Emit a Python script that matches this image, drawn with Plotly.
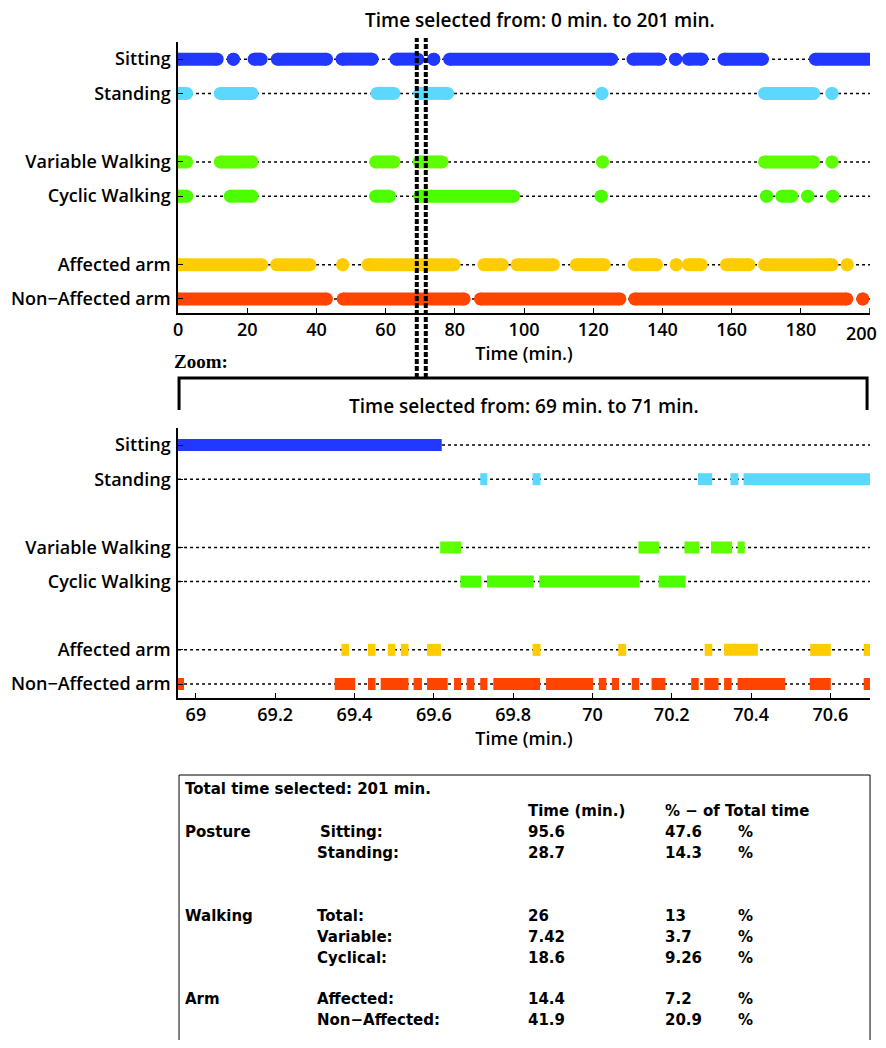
import plotly.graph_objects as go

# the page has an 8px body margin; the figure is sized so that it fits the 886x1048 window
W, H = 870, 1032
OFF = 8
FONT = "Open Sans"

# ---------------- data ----------------
rows = ["Sitting", "Standing", "Variable Walking", "Cyclic Walking", "Affected arm", "Non\u2212Affected arm"]
row_pos = [8, 7, 5, 4, 2, 1]
colors = ["#2038FF", "#5CD8FF", "#5EFF00", "#4CFF00", "#FFCC00", "#FF4400"]

# overview (0 - 201 min): activity periods [start, end] in minutes
overview = {
    "Sitting": [[0, 11.3], [16, 16], [22.0, 24.0], [28.7, 42.9], [47.4, 56.1], [63.0, 69.3], [73.9, 73.9],
                [78.5, 125.3], [131.5, 139.2], [143.8, 143.8], [147.5, 151.4], [157.8, 168.9], [184.2, 201]],
    "Standing": [[0, 2.5], [12.2, 21.4], [57.5, 62.4], [69.9, 77.9], [122.5, 122.5], [169.5, 183.7], [189, 189]],
    "Variable Walking": [[0, 2.5], [12.2, 21.4], [57.1, 62.4], [69.7, 76.3], [122.7, 122.7], [169.5, 183.7], [189, 189]],
    "Cyclic Walking": [[0, 2.5], [15.1, 21.4], [57.1, 61.1], [69.9, 97.0], [122.3, 122.3], [170.1, 170.1],
                       [174.5, 177.4], [182, 182], [189.2, 189.2]],
    "Affected arm": [[0, 24.2], [28.5, 38.1], [47.6, 47.6], [54.9, 79.8], [88.4, 93.7], [98.0, 108.5],
                     [115.1, 123.2], [131.8, 138.3], [144, 144], [147.5, 151.2], [158.5, 165.0],
                     [169.5, 189.0], [193.4, 193.4]],
    "Non\u2212Affected arm": [[0, 42.9], [47.7, 82.7], [87.4, 127.7], [132.0, 193.3], [197.9, 197.9]],
}

# zoom (69 - 71 min)
zoom = {
    "Sitting": [[68.955, 69.62]],
    "Standing": [[69.717, 69.735], [69.849, 69.869], [70.266, 70.302], [70.348, 70.368], [70.381, 70.71]],
    "Variable Walking": [[69.616, 69.669], [70.116, 70.168], [70.232, 70.269], [70.299, 70.352], [70.366, 70.384]],
    "Cyclic Walking": [[69.667, 69.719], [69.734, 69.852], [69.866, 70.119], [70.167, 70.235]],
    "Affected arm": [[69.367, 69.386], [69.434, 69.453], [69.484, 69.503], [69.517, 69.536], [69.583, 69.618],
                     [69.849, 69.869], [70.065, 70.085], [70.283, 70.302], [70.332, 70.417], [70.549, 70.601],
                     [70.684, 70.71]],
    "Non\u2212Affected arm": [[68.955, 68.97], [69.35, 69.402], [69.434, 69.453], [69.466, 69.536], [69.549, 69.57],
                             [69.583, 69.635], [69.651, 69.669], [69.683, 69.702], [69.717, 69.735], [69.75, 69.868],
                             [69.883, 70.002], [70.016, 70.035], [70.049, 70.067], [70.099, 70.118], [70.149, 70.184],
                             [70.249, 70.268], [70.282, 70.318], [70.332, 70.351], [70.366, 70.486], [70.548, 70.601],
                             [70.684, 70.71]],
}

overview_range = [0, 200]
overview_ticks = [0, 20, 40, 60, 80, 100, 120, 140, 160, 180, 200]
zoom_range = [68.955, 70.7]
zoom_ticks = [69, 69.2, 69.4, 69.6, 69.8, 70, 70.2, 70.4, 70.6]
zoom_ticklabels = ["69", "69.2", "69.4", "69.6", "69.8", "70", "70.2", "70.4", "70.6"]
selection = [69.0, 71.6]
selection_label = [69, 71]

total_time = 201
table_header = ["Time (min.)", "% \u2212 of Total time"]
table_rows = [
    ("Posture", "Sitting:", "95.6", "47.6"),
    ("", "Standing:", "28.7", "14.3"),
    ("Walking", "Total:", "26", "13"),
    ("", "Variable:", "7.42", "3.7"),
    ("", "Cyclical:", "18.6", "9.26"),
    ("Arm", "Affected:", "14.4", "7.2"),
    ("", "Non\u2212Affected:", "41.9", "20.9"),
]
table_row_y = [832, 853, 916, 937, 958, 999, 1020]
table_label_x = [316, 313, 313, 313, 313, 313, 313]

# ---------------- helpers (window pixel -> paper) ----------------
def PX(x):
    return (x - OFF) / W

def PY(y):
    return 1 - (y - OFF) / H

fig = go.Figure()

def seg_xy(segs, ypos):
    xs, ys = [], []
    for s, e in segs:
        xs += [s, e, None]
        ys += [ypos, ypos, None]
    return xs, ys

for axis_id, data, rng, lw, with_markers in [("", overview, overview_range, 13, True),
                                             ("2", zoom, zoom_range, 12, False)]:
    for name, yp in zip(rows, row_pos):
        fig.add_trace(go.Scatter(x=[rng[0], rng[1]], y=[yp, yp], mode="lines",
                                 line=dict(color="black", width=1.5, dash="3px,3px"),
                                 xaxis="x" + axis_id, yaxis="y" + axis_id, showlegend=False,
                                 hoverinfo="skip"))
    for name, yp, c in zip(rows, row_pos, colors):
        xs, ys = seg_xy(data[name], yp)
        fig.add_trace(go.Scatter(x=xs, y=ys, mode="lines+markers" if with_markers else "lines",
                                 line=dict(color=c, width=lw),
                                 marker=dict(color=c, size=lw, line=dict(width=0)),
                                 xaxis="x" + axis_id, yaxis="y" + axis_id, showlegend=False,
                                 name=name))

axis_font = dict(family=FONT, size=18, color="black", weight=600)
tick_font = dict(family=FONT, size=18, color="black", weight=600)
table_font = dict(family="DejaVu Sans", size=15, color="black", weight=700)
common_y = dict(tickvals=row_pos, ticktext=rows, range=[0.59, 8.5], showline=True, linecolor="black",
                linewidth=1.5, ticks="inside", ticklen=5, tickcolor="black", tickfont=tick_font,
                showgrid=False, zeroline=False, fixedrange=True, ticklabelstandoff=2)
common_x = dict(showline=True, linecolor="black", linewidth=1.5, ticks="inside", ticklen=5,
                tickcolor="black", tickfont=tick_font, showgrid=False, zeroline=False,
                title=dict(text="Time (min.)", font=axis_font, standoff=0))

fig.update_layout(
    width=W, height=H, margin=dict(l=0, r=0, t=0, b=0),
    paper_bgcolor="white", plot_bgcolor="white",
    xaxis=dict(common_x, domain=[PX(174), PX(870)], range=overview_range, tickvals=overview_ticks[:-1],
               anchor="y"),
    yaxis=dict(common_y, domain=[PY(313), PY(42)], anchor="x"),
    xaxis2=dict(common_x, domain=[PX(174), PX(870)], range=zoom_range, tickvals=zoom_ticks,
                ticktext=zoom_ticklabels, anchor="y2"),
    yaxis2=dict(common_y, domain=[PY(698), PY(428)], anchor="x2"),
)

shapes = []
for sx in selection:
    shapes.append(dict(type="line", xref="x", yref="paper", x0=sx, x1=sx, y0=PY(378), y1=PY(38),
                       line=dict(color="black", width=4, dash="5px,2px")))
# tick mark for the last overview tick (its label is placed inside the page below)
shapes.append(dict(type="line", xref="x", yref="paper", x0=overview_ticks[-1], x1=overview_ticks[-1],
                   y0=PY(313), y1=PY(308), line=dict(color="black", width=1.5)))
shapes.append(dict(type="path", xref="paper", yref="paper",
                   path=f"M {PX(175)},{PY(410)} L {PX(175)},{PY(378)} L {PX(867)},{PY(378)} L {PX(867)},{PY(410)}",
                   line=dict(color="black", width=3)))
shapes.append(dict(type="rect", xref="paper", yref="paper", x0=PX(175), x1=PX(870), y0=PY(1060), y1=PY(775),
                   line=dict(color="black", width=1)))
fig.update_layout(shapes=shapes)

ann = []
def text(x, y, s, anchor="left", font=None):
    ann.append(dict(x=PX(x), y=PY(y), xref="paper", yref="paper", text=s, showarrow=False,
                    xanchor=anchor, yanchor="middle", font=font or table_font,
                    borderpad=0))

# last overview tick label, kept inside the page
ann.append(dict(x=overview_ticks[-1], xref="x", y=PY(333), yref="paper", text=str(overview_ticks[-1]),
                showarrow=False, xanchor="right", yanchor="middle", xshift=8, font=tick_font, borderpad=0))

title_font = dict(family=FONT, size=19, color="black", weight=600)
text(538, 20, f"Time selected from: {overview_range[0]} min. to {total_time} min.", "center", title_font)
text(522, 406, f"Time selected from: {selection_label[0]} min. to {selection_label[1]} min.", "center", title_font)
text(169, 362, "Zoom:", "left", dict(family="Liberation Serif", size=19, color="black", weight=700))

text(180, 789, f"Total time selected: {total_time} min.")
text(525, 811, table_header[0])
text(663, 811, table_header[1])
for (grp, lab, t, p), y, lx in zip(table_rows, table_row_y, table_label_x):
    if grp:
        text(180, y, grp)
    text(lx, y, lab)
    text(525, y, t)
    text(663, y, p)
    text(736, y, "%")
fig.update_layout(annotations=ann)

fig.write_html("out.html")
